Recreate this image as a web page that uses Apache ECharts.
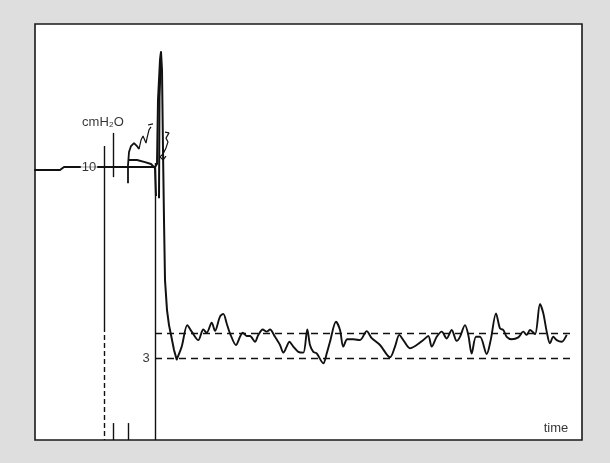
<!DOCTYPE html>
<html>
<head>
<meta charset="utf-8">
<script src="https://cdn.jsdelivr.net/npm/echarts@6/dist/echarts.min.js"></script>
<style>html,body{margin:0;padding:0;background:#dedede;}#c{width:610px;height:463px;}</style>
</head>
<body>
<div id="c"></div>
<script>
// Pressure trace (time units, cmH2O)
const traceX = [0,25,29,120,122,123,125,126,127,128,129,130,132,134,136,139,141.7,146.7,152.3,156.7,163.3,168.3,171.7,176.7,180,185,188.3,191.7,195,201,205,207.7,211.7,215,220,223.3,227.7,231.7,235,240,245,248.3,251.7,254.3,258.3,263.3,268.3,272.3,275,278.3,281.7,288.3,291.7,295,301,305,308.3,312.3,318.3,325,331.7,336.7,345,355,360,364.3,368.3,375,381.7,388.3,393.3,396.7,401.7,406.7,411.7,416.7,421.7,425,430,433.3,436.7,441,445,451.7,455.7,461,465,468.3,471.7,476.7,483.3,488.3,491.7,495,500,505,508.3,511.7,515,518.3,521.7,526.7,531.7];
const traceY = [9.89,9.89,10.0,10.0,10.11,12.45,13.92,14.21,13.55,10.62,8.06,5.86,4.76,4.21,3.85,3.30,2.95,3.42,4.21,3.97,3.66,4.05,3.93,4.30,4.00,4.52,4.62,4.27,3.91,3.48,3.78,3.93,3.81,3.81,3.60,3.85,4.05,3.97,4.05,3.78,3.48,3.20,3.42,3.60,3.42,3.23,3.20,4.05,3.48,3.23,3.17,2.81,3.17,3.60,4.33,4.03,3.42,3.69,3.69,3.66,3.99,3.73,3.48,3.03,3.42,3.85,3.66,3.36,3.48,3.66,3.81,3.42,3.78,3.97,3.72,4.03,3.63,3.78,4.21,3.85,3.17,3.78,3.78,3.15,3.66,4.64,4.09,4.03,3.78,3.69,3.76,3.97,3.85,4.03,3.88,4.98,4.64,3.97,3.54,3.78,3.66,3.60,3.85];
const spikeEnd = 16; // index where the spike ends and the noisy plateau begins

// Hand-drawn annotation strokes
const humpX = [93,93,94,96,99,102,104];
const humpY = [9.41,10.07,10.55,10.77,10.88,10.77,10.66];
const branchX = [94,102,110,116,120,121];
const branchY = [10.26,10.26,10.18,10.11,9.96,8.94];
const stroke2X = [124,124.5,126];
const stroke2Y = [8.86,12.56,14.21];
const scrawl1X = [104,106,108,110,111,112,114,116];
const scrawl1Y = [10.66,10.99,11.14,11.10,10.88,11.06,11.36,11.47];
const scrawl2X = [113,118];
const scrawl2Y = [11.54,11.58];
const scrawl3X = [130,134,131,133,131,128,125,128,131];
const scrawl3Y = [11.28,11.25,11.06,10.92,10.70,10.48,10.37,10.26,10.40];

// Reference levels
const refLevels = [3, 3.9];
const refStart = 120, refEnd = 539;

// Vertical markers: [x, yTop, yBottom, dashed]
const vMarkers = [
  [120, 10.15, 0, false],
  [69, 10.77, 4.14, false],
  [69, 4.14, 0, true],
  [78, 11.25, 9.63, false],
  [78, 0.62, 0, false],
  [93, 0.62, 0, false]
];

// Text labels: [x, y, text]
const labels = [
  [54, 10, '10'],
  [68, 11.65, 'cmH₂O'],
  [111, 3, '3'],
  [521, 0.44, 'time']
];

const zip = (a, b) => a.map((v, i) => [v, b[i]]);
const ink = '#111';
const FONT = "'Liberation Sans', Arial, sans-serif";

function strokeSeries(xs, ys, w) {
  return {
    type: 'line', data: zip(xs, ys), symbol: 'none', silent: true,
    lineStyle: { color: ink, width: w }, z: 3
  };
}

const markData = [];
vMarkers.forEach(m => {
  markData.push([
    { coord: [m[0], m[1]], lineStyle: { type: m[3] ? [5, 3] : 'solid', width: 1.4, color: ink } },
    { coord: [m[0], m[2]] }
  ]);
});
refLevels.forEach(l => {
  markData.push([
    { coord: [refStart, l], lineStyle: { type: [7, 5], width: 1.4, color: ink } },
    { coord: [refEnd, l] }
  ]);
});

const trace = zip(traceX, traceY);

const chart = echarts.init(document.getElementById('c'));
chart.setOption({
  animation: false,
  backgroundColor: '#dedede',
  grid: { left: 35, right: 28, top: 24, bottom: 23, show: true, backgroundColor: '#fff', borderColor: '#1a1a1a', borderWidth: 1.6 },
  xAxis: { type: 'value', min: 0, max: 547, show: false },
  yAxis: { type: 'value', min: 0, max: 15.24, show: false },
  series: [
    {
      type: 'line', data: trace.slice(0, spikeEnd + 1), symbol: 'none', smooth: false, silent: true,
      lineStyle: { color: ink, width: 2, join: 'round', cap: 'round' }, z: 4,
      markLine: { symbol: ['none', 'none'], silent: true, label: { show: false }, data: markData }
    },
    {
      type: 'line', data: trace.slice(spikeEnd), symbol: 'none', smooth: 0.3, silent: true,
      lineStyle: { color: ink, width: 1.9, join: 'round' }, z: 4
    },
    strokeSeries(humpX, humpY, 1.8),
    strokeSeries(branchX, branchY, 2),
    strokeSeries(stroke2X, stroke2Y, 2),
    strokeSeries(scrawl1X, scrawl1Y, 1.2),
    strokeSeries(scrawl2X, scrawl2Y, 1.2),
    strokeSeries(scrawl3X, scrawl3Y, 1.2),
    {
      type: 'scatter', symbolSize: 0, silent: true, z: 6,
      data: labels.map(l => ({ value: [l[0], l[1]], name: l[2] })),
      label: {
        show: true, position: 'inside', formatter: p => p.name,
        fontFamily: FONT, fontSize: 13, color: '#000',
        backgroundColor: '#fff', padding: [0, 1]
      }
    }
  ]
});
</script>
</body>
</html>
